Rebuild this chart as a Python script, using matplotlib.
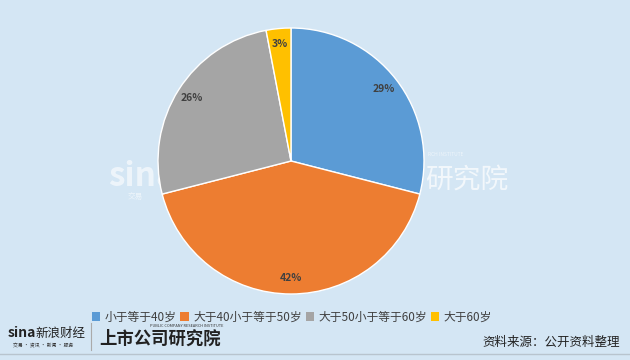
import matplotlib
matplotlib.use("Agg")
import matplotlib.pyplot as plt
from matplotlib.lines import Line2D
from matplotlib.patches import Patch

plt.rcParams['font.family'] = ['Noto Sans CJK SC', 'DejaVu Sans']

categories = ["小于等于40岁", "大于40小于等于50岁", "大于50小于等于60岁", "大于60岁"]
values = [29, 42, 26, 3]
colors = ["#5B9BD5", "#ED7D31", "#A5A5A5", "#FFC000"]
bg = "#D4E6F4"

fig = plt.figure(figsize=(6.3, 3.6), dpi=100)
fig.patch.set_facecolor(bg)

# watermark (behind the pie)
fig.text(108/630, 1-176/360, "sina", fontsize=24, fontweight='bold', style='italic',
         color='white', alpha=0.6, va='center', ha='left', zorder=-2)
fig.text(128/630, 1-197/360, "交易", fontsize=5.5, color='white', alpha=0.6, va='center', ha='left', zorder=-2)
fig.text(425/630, 1-180/360, "研究院", fontsize=20, style='italic',
         color='white', alpha=0.7, va='center', ha='left', zorder=-2)
fig.text(428/630, 1-155/360, "RCH INSTITUTE", fontsize=3.5, color='white', alpha=0.6, va='center', ha='left', zorder=-2)

ax = fig.add_axes([(291-133)/630, (360-294)/360, 266/630, 266/360])
ax.patch.set_visible(False)
wedges, texts, autotexts = ax.pie(
    values, colors=colors, startangle=90, counterclock=False,
    autopct=lambda p: f"{p:.0f}%", pctdistance=0.88,
    wedgeprops=dict(edgecolor='white', linewidth=1),
    textprops=dict(fontsize=7.5, fontweight='bold', color='#404040'))
ax.set_aspect('equal')
ax.set_xlim(-1.0, 1.0)
ax.set_ylim(-1.0, 1.0)

handles = [Patch(facecolor=c, edgecolor='none') for c in colors]
fig.legend(handles, categories, loc='center', bbox_to_anchor=(292/630, 1-317/360),
           ncol=4, frameon=False, fontsize=8.5, handlelength=0.7, handleheight=0.7,
           handletextpad=0.4, columnspacing=0.3, labelcolor='#404040')

# footer
fig.text(620/630, 1-342/360, "资料来源：公开资料整理", fontsize=9, color='#222222',
         ha='right', va='center')
fig.text(8/630, 1-333/360, "sina", fontsize=10, fontweight='bold', style='italic',
         color='#222222', ha='left', va='center')
fig.text(35/630, 1-333/360, "新浪财经", fontsize=9, color='#222222', ha='left', va='center')
fig.text(13/630, 1-346/360, "交易 · 资讯 · 新闻 · 服务", fontsize=3.5, color='#333333', ha='left', va='center')
fig.add_artist(Line2D([91/630, 91/630], [1-323/360, 1-350/360], color='#AAAAAA', lw=0.8))
fig.text(99/630, 1-339/360, "上市公司研究院", fontsize=12.5, fontweight='bold', style='italic',
         color='#222222', ha='left', va='center')
fig.text(150/630, 1-326/360, "PUBLIC COMPANY RESEARCH INSTITUTE", fontsize=2.8, color='#333333',
         ha='left', va='center')
fig.add_artist(Line2D([0, 1], [1-353.5/360, 1-353.5/360], color='#B8C4CE', lw=1))

fig.savefig("out.png", dpi=100, facecolor=bg)
